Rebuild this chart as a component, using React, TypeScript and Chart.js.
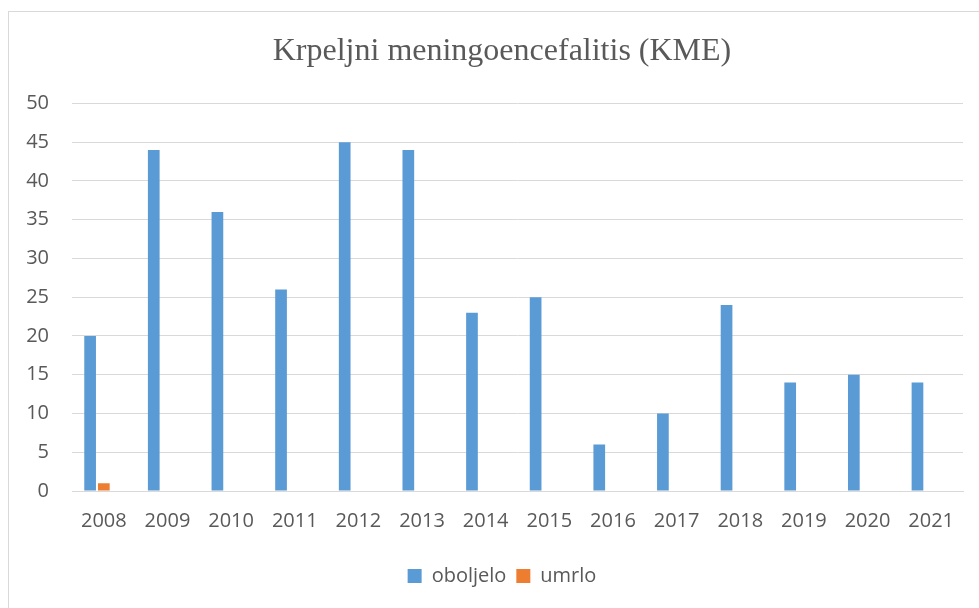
import React, { useEffect, useRef } from "react";
import { Chart, registerables } from "chart.js";

Chart.register(...registerables);

const years = ["2008", "2009", "2010", "2011", "2012", "2013", "2014", "2015", "2016", "2017", "2018", "2019", "2020", "2021"];
const oboljelo = [20, 44, 36, 26, 45, 44, 23, 25, 6, 10, 24, 14, 15, 14];
const umrlo = [1, 0, 0, 0, 0, 0, 0, 0, 0, 0, 0, 0, 0, 0];
const emptySeries = [null, null, null, null, null, null, null, null, null, null, null, null, null, null];
const titleText = "Krpeljni meningoencefalitis (KME)";

const shiftBlocks = {
  id: "shiftBlocks",
  afterLayout(chart: any) {
    const dx = 16;
    for (const b of [chart.titleBlock, chart.legend]) {
      if (b) {
        b.left += dx;
        b.right += dx;
      }
    }
  },
};

export default function App() {
  const ref = useRef<HTMLCanvasElement>(null);
  useEffect(() => {
    if (!ref.current) return;
    const tickFont = { family: "'Open Sans', sans-serif", size: 20 };
    const chart = new Chart(ref.current, {
      type: "bar",
      data: {
        labels: years,
        datasets: [
          { label: "oboljelo", data: oboljelo, backgroundColor: "#5B9BD5", borderWidth: 0 },
          { label: "umrlo", data: umrlo, backgroundColor: "#ED7D31", borderWidth: 0 },
          { label: "", data: emptySeries, backgroundColor: "#A5A5A5", borderWidth: 0 },
        ],
      },
      options: {
        responsive: false,
        animation: false,
        layout: { padding: { top: 0, left: 0, right: 16, bottom: 16 } },
        datasets: { bar: { categoryPercentage: 0.646, barPercentage: 0.854 } },
        plugins: {
          title: {
            display: true,
            text: titleText,
            color: "#595959",
            font: { family: "'Liberation Serif', 'Times New Roman', serif", size: 32, weight: "normal", lineHeight: 1.2 },
            padding: { top: 20, bottom: 33 },
          },
          legend: {
            position: "bottom",
            labels: {
              color: "#595959",
              font: tickFont,
              boxWidth: 14,
              boxHeight: 14,
              padding: 10,
              filter: (item) => item.text !== "",
            },
          },
          tooltip: { enabled: false },
        },
        scales: {
          x: {
            grid: { display: false, drawTicks: false },
            border: { display: true, color: "#D9D9D9", width: 1 },
            ticks: { color: "#595959", font: tickFont, padding: 18, maxRotation: 0 },
            afterFit: (s) => { s.height = 65; },
          },
          y: {
            min: 0,
            max: 50,
            grid: { color: "#D9D9D9", lineWidth: 1, drawTicks: false },
            border: { display: false },
            ticks: { stepSize: 5, color: "#595959", font: tickFont, padding: 23 },
            afterFit: (s) => { s.width = 63; },
          },
        },
      },
      plugins: [shiftBlocks],
    });
    return () => chart.destroy();
  }, []);
  return (
    <div style={{ position: "fixed", left: 0, top: 0, width: 979, height: 608, overflow: "hidden", background: "#fff" }}>
      <div style={{ position: "absolute", left: 8, top: 11, width: 990, height: 620, border: "1px solid #D9D9D9", background: "#fff" }}>
        <canvas ref={ref} width={970} height={600} style={{ display: "block" }} />
      </div>
    </div>
  );
}
